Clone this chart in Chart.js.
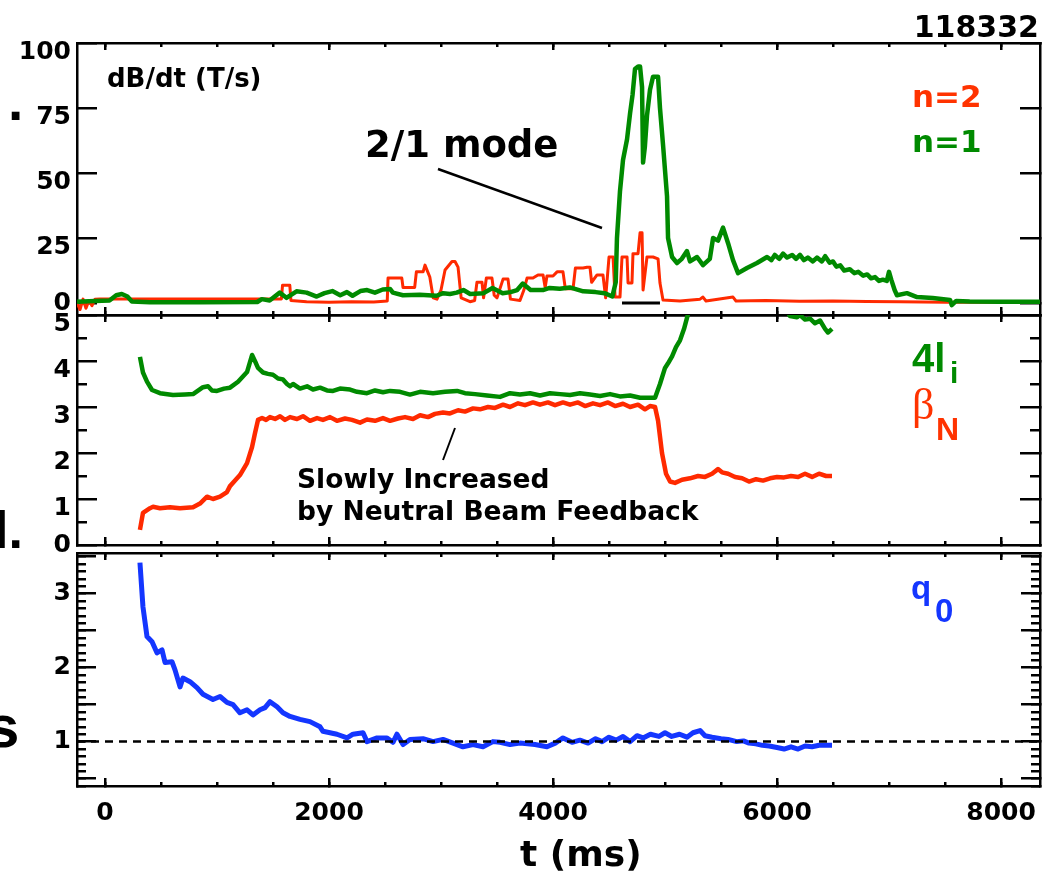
<!DOCTYPE html>
<html><head><meta charset="utf-8">
<script src="https://cdn.jsdelivr.net/npm/chart.js@4.4.1/dist/chart.umd.min.js"></script>
<style>
html,body{margin:0;padding:0;background:#fff;}
#wrap{position:relative;width:1053px;height:873px;overflow:hidden;background:#fff;}
canvas{position:absolute;left:0;top:0;}
.t{position:absolute;white-space:nowrap;line-height:1;font-family:'DejaVu Sans';font-weight:bold;color:#000;}
svg{position:absolute;left:0;top:0;}
</style></head>
<body><div id="wrap">
<canvas id="c1" width="1053" height="873" style="width:1053px;height:873px"></canvas>
<canvas id="c2" width="1053" height="873" style="width:1053px;height:873px"></canvas>
<canvas id="c3" width="1053" height="873" style="width:1053px;height:873px"></canvas>
<svg width="1053" height="873">
  <line x1="438" y1="169" x2="602" y2="228" stroke="#000" stroke-width="2.5"/>
  <line x1="455" y1="428" x2="443" y2="460" stroke="#000" stroke-width="2"/>
</svg>
</div>
<script>
// ---------------- tick positions / labels ----------------
const xMajorTicks = [0, 2000, 4000, 6000, 8000];
const xMinorTicks = [0, 500, 1000, 1500, 2000, 2500, 3000, 3500, 4000, 4500, 5000, 5500, 6000, 6500, 7000, 7500, 8000];
const topMajorTicks = [0, 25, 50, 75, 100];
const midMajorTicks = [0, 1, 2, 3, 4, 5];
const midMinorTicks = [0.5, 1.5, 2.5, 3.5, 4.5];
const botMajorTicks = [0.5, 1, 1.5, 2, 2.5, 3, 3.5];
const botMinorTicks = [0.4, 0.5, 0.6, 0.7, 0.8, 0.9, 1.0, 1.1, 1.2, 1.3, 1.4, 1.5, 1.6, 1.7, 1.8, 1.9, 2.0, 2.1, 2.2, 2.3, 2.4, 2.5, 2.6, 2.7, 2.8, 2.9, 3.0, 3.1, 3.2, 3.3, 3.4, 3.5];
const botLabels = [1, 2, 3];

// ---------------- data (time in ms, values) ----------------
// dB/dt n=1 (T/s)
const n1 = [[-250,0.5],[-90,0.8],[40,1.0],[100,3.0],[150,3.5],[200,2.5],[240,0.6],[400,0.3],[850,0.3],[1360,0.4],[1400,1.5],[1470,1.0],[1560,4.0],[1620,2.0],[1710,4.5],[1800,4.0],[1890,2.5],[1960,3.8],[2030,4.6],[2100,3.0],[2160,4.2],[2210,2.8],[2280,4.6],[2340,5.0],[2410,4.0],[2480,5.2],[2545,5.4],[2570,4.0],[2660,3.0],[2810,3.2],[2960,2.8],[3020,3.8],[3080,3.5],[3140,4.0],[3200,5.0],[3260,3.5],[3380,3.8],[3460,5.8],[3550,3.8],[3620,4.2],[3680,5.0],[3730,7.5],[3800,5.0],[3910,5.0],[3970,5.8],[4060,5.5],[4150,6.0],[4270,4.5],[4380,4.2],[4460,3.8],[4530,2.5],[4560,8],[4571,25],[4598,43],[4625,55],[4661,63],[4688,73],[4710,80],[4732,90],[4760,91],[4777,91],[4795,83],[4804,54],[4820,60],[4839,72],[4866,82],[4893,87],[4938,87],[4955,75],[4982,61],[5018,41],[5027,25],[5063,17.7],[5107,15.4],[5150,17],[5196,20],[5223,16],[5286,17.7],[5339,14.6],[5400,17],[5429,25],[5473,24],[5518,29],[5563,23],[5607,16.5],[5652,11.5],[5732,13.5],[5821,15.4],[5911,17.7],[5950,16.5],[5980,18.5],[6020,17],[6054,19],[6090,17.5],[6135,18.5],[6170,17],[6205,18.5],[6240,16.5],[6275,17.5],[6320,16],[6357,17.5],[6400,16],[6430,18],[6470,15.5],[6500,16],[6530,14],[6565,14.5],[6600,12.5],[6650,13],[6690,11.5],[6725,12],[6770,10.5],[6805,11],[6840,9.5],[6875,10],[6910,8.5],[6945,9],[6980,8.5],[7000,12],[7020,9],[7050,5],[7071,3],[7160,3.8],[7250,2.3],[7390,1.9],[7545,1.2],[7560,-0.8],[7600,0.8],[7720,0.6],[7990,0.5],[8348,0.5]];

// dB/dt n=2 (T/s)
const n2 = [[-250,0],[-223,-2.5],[-196,1.5],[-170,-2],[-143,1],[-116,-1],[-89,1.5],[-45,1.6],[1380,1.6],[1575,1.6],[1585,6.8],[1650,6.8],[1660,1.0],[1800,0.5],[2000,0.3],[2200,0.5],[2400,0.4],[2520,0.8],[2527,9.6],[2650,9.6],[2661,6],[2765,6],[2780,12],[2840,12],[2857,14.6],[2900,10],[2930,2],[2964,1.5],[3000,5],[3036,12.7],[3098,16],[3125,16],[3152,13.8],[3180,2],[3259,0.5],[3300,1],[3321,8],[3366,8],[3380,2],[3405,9.6],[3455,9.6],[3475,3],[3500,2],[3554,9.2],[3598,9.2],[3620,1.5],[3705,1],[3740,5],[3768,9.6],[3821,9.6],[3866,10.8],[3911,10.8],[3930,6],[3946,10.4],[4000,10.4],[4036,12],[4089,12],[4110,5.5],[4179,5.5],[4200,13.5],[4268,13.5],[4304,13.8],[4330,13.8],[4345,8],[4393,10.8],[4446,10.8],[4470,2],[4500,17.7],[4536,17.7],[4554,2.3],[4598,2.3],[4616,17.7],[4661,17.7],[4670,7.7],[4705,7.7],[4714,19],[4759,19],[4777,27],[4795,27],[4804,5],[4839,17.7],[4893,17.7],[4938,17],[4955,7.7],[4982,1.2],[5134,0.8],[5313,1.5],[5339,2.3],[5366,0.8],[5607,2.3],[5634,0.8],[5900,1.0],[6200,0.7],[6500,0.8],[6800,0.6],[7100,0.5],[7500,0.3],[8348,0.3]];

// reference trace near zero
const n0 = [[4616,0],[4955,0]];

// 4 li
const li4 = [[312,4.09],[339,3.75],[375,3.55],[420,3.37],[491,3.3],[607,3.26],[714,3.27],[786,3.28],[875,3.43],[920,3.45],[955,3.36],[1000,3.35],[1063,3.4],[1116,3.42],[1188,3.55],[1268,3.76],[1313,4.13],[1348,3.95],[1366,3.85],[1411,3.75],[1455,3.72],[1500,3.7],[1545,3.62],[1589,3.6],[1625,3.5],[1652,3.45],[1679,3.5],[1741,3.4],[1804,3.45],[1857,3.38],[1920,3.42],[1982,3.36],[2036,3.35],[2098,3.4],[2188,3.38],[2250,3.33],[2339,3.3],[2411,3.36],[2482,3.32],[2545,3.35],[2634,3.33],[2723,3.27],[2813,3.33],[2929,3.3],[3036,3.33],[3143,3.35],[3214,3.3],[3304,3.28],[3411,3.25],[3527,3.22],[3616,3.3],[3705,3.27],[3795,3.3],[3884,3.25],[3973,3.3],[4063,3.28],[4152,3.26],[4241,3.3],[4330,3.27],[4420,3.24],[4509,3.28],[4598,3.23],[4688,3.25],[4777,3.2],[4866,3.2],[4911,3.2],[4955,3.5],[5000,3.85],[5027,3.95],[5063,4.1],[5098,4.3],[5134,4.45],[5170,4.7],[5214,5.1],[5313,5.6],[5491,5.8],[5848,5.6],[6071,5.15],[6116,4.98],[6179,4.95],[6205,5.0],[6250,4.9],[6295,4.92],[6339,4.82],[6384,4.88],[6429,4.7],[6455,4.62],[6491,4.7]];

// beta N
const betaN = [[312,0.33],[339,0.7],[402,0.8],[429,0.83],[491,0.8],[580,0.82],[670,0.8],[786,0.82],[848,0.9],[911,1.05],[964,1.0],[1027,1.05],[1089,1.15],[1116,1.28],[1161,1.4],[1205,1.52],[1268,1.78],[1313,2.13],[1339,2.43],[1366,2.72],[1402,2.76],[1438,2.72],[1473,2.78],[1518,2.74],[1563,2.8],[1607,2.72],[1652,2.78],[1714,2.74],[1768,2.8],[1830,2.7],[1893,2.76],[1946,2.72],[2009,2.78],[2071,2.7],[2143,2.75],[2205,2.72],[2277,2.66],[2339,2.73],[2411,2.7],[2482,2.76],[2545,2.7],[2616,2.75],[2679,2.78],[2750,2.74],[2813,2.82],[2884,2.78],[2946,2.85],[3018,2.88],[3080,2.86],[3152,2.93],[3214,2.9],[3286,2.97],[3348,2.95],[3420,3.0],[3482,2.98],[3554,3.05],[3616,3.0],[3688,3.08],[3750,3.04],[3821,3.1],[3884,3.05],[3955,3.1],[4018,3.04],[4089,3.1],[4152,3.05],[4223,3.1],[4286,3.02],[4357,3.08],[4420,3.04],[4491,3.1],[4554,3.02],[4625,3.07],[4688,3.0],[4759,3.05],[4821,2.95],[4866,3.02],[4911,3.0],[4938,2.7],[4973,2.0],[5009,1.55],[5045,1.38],[5089,1.35],[5152,1.42],[5223,1.45],[5295,1.5],[5357,1.48],[5420,1.55],[5473,1.65],[5509,1.58],[5563,1.55],[5625,1.48],[5688,1.45],[5750,1.38],[5813,1.43],[5875,1.4],[5938,1.45],[6000,1.48],[6063,1.47],[6125,1.5],[6188,1.48],[6250,1.55],[6313,1.48],[6375,1.55],[6438,1.5],[6491,1.5]];

// q0
const q0 = [[312,3.42],[339,2.82],[375,2.42],[420,2.35],[464,2.2],[509,2.24],[536,2.07],[598,2.08],[625,1.97],[670,1.74],[696,1.86],[759,1.81],[821,1.73],[875,1.64],[964,1.57],[1027,1.61],[1089,1.53],[1143,1.5],[1205,1.39],[1268,1.43],[1321,1.36],[1384,1.43],[1429,1.46],[1473,1.54],[1536,1.47],[1589,1.39],[1652,1.34],[1741,1.3],[1830,1.27],[1920,1.2],[1946,1.14],[2009,1.12],[2071,1.1],[2161,1.05],[2214,1.1],[2304,1.12],[2339,1.0],[2429,1.05],[2518,1.05],[2571,0.99],[2607,1.1],[2661,0.96],[2723,1.03],[2839,1.04],[2929,1.0],[3018,1.03],[3107,0.98],[3196,0.93],[3286,0.96],[3375,0.93],[3464,1.0],[3527,0.99],[3616,0.96],[3705,0.98],[3839,0.96],[3946,0.93],[4020,0.98],[4089,1.05],[4170,0.99],[4240,1.02],[4313,0.98],[4380,1.04],[4438,1.0],[4500,1.06],[4563,1.02],[4625,1.07],[4688,1.0],[4750,1.08],[4804,1.05],[4870,1.1],[4946,1.07],[5000,1.12],[5060,1.07],[5130,1.1],[5196,1.06],[5250,1.12],[5313,1.15],[5357,1.08],[5420,1.06],[5500,1.04],[5563,1.03],[5640,1.0],[5700,1.01],[5750,0.98],[5810,0.97],[5870,0.95],[5930,0.94],[6000,0.92],[6063,0.9],[6125,0.93],[6188,0.9],[6250,0.94],[6313,0.93],[6375,0.95],[6491,0.95]];

const qRef = [[-250,1],[8348,1]];

// ---------------- rendering ----------------
const X_MIN = -250, X_MAX = 8348;
const GREEN = '#008a00', RED = '#ff2a00', BLUE = '#1436ff';

function pts(arr){ return arr.map(p => ({x:p[0], y:p[1]})); }

function mkAxis(pos, min, max, tickList, len, o) {
  o = o || {};
  const horiz = (pos === 'top' || pos === 'bottom');
  return {
    type:'linear', position:pos, min:min, max:max, weight:o.weight || 0,
    afterBuildTicks:function(s){ s.ticks = tickList.map(v => ({value:v})); },
    ticks:{
      autoSkip:false, maxRotation:0, minRotation:0,
      display:!!o.labels, padding:o.padding || 0,
      color:'#000', font:{family:'DejaVu Sans', weight:'bold', size:25, lineHeight:o.lh || 1.2},
      callback:o.callback || function(v){ return String(v); }
    },
    grid:{display:!o.noTicks, drawOnChartArea:false, drawTicks:true, tickLength:-len, lineWidth:2.5, color:'#000'},
    border:{display:!o.noBorder, width:2.5, color:'#000'},
    afterFit:function(s){
      const sz = o.size || 0;
      if (horiz) s.height = sz; else s.width = sz;
      s.paddingLeft = 0; s.paddingRight = 0; s.paddingTop = 0; s.paddingBottom = 0;
    }
  };
}

// labels hanging below their tick use a two-line label ['', text]
function hang(v){ return ['', String(v)]; }

function buildScales(p) {
  const sc = {};
  sc.x = mkAxis('bottom', X_MIN, X_MAX, xMajorTicks, 8, p.xLabels ?
      {labels:true, padding:20, size:873 - 786, weight:10, callback:v => String(v)} : {weight:10});
  sc.xm = mkAxis('bottom', X_MIN, X_MAX, xMinorTicks, 4, {noBorder:true});
  sc.xt = mkAxis('top', X_MIN, X_MAX, xMajorTicks, 7);
  sc.xtm = mkAxis('top', X_MIN, X_MAX, xMinorTicks, 4, {noBorder:true});
  sc.y = mkAxis('left', p.min, p.max, p.major, p.majLen, {labels:true, padding:p.majLen + 6,
      size:77, weight:10, lh:p.lh, callback:p.cb});
  if (p.minor) sc.ym = mkAxis('left', p.min, p.max, p.minor, p.minLen, {noBorder:true});
  sc.yr = mkAxis('right', p.min, p.max, p.major, p.majLen);
  if (p.minor) sc.yrm = mkAxis('right', p.min, p.max, p.minor, p.minLen, {noBorder:true});
  return sc;
}

function ds(arr, color, width, extra) {
  return Object.assign({data:pts(arr), borderColor:color, borderWidth:width, pointRadius:0,
    tension:0, fill:false, borderJoinStyle:'round'}, extra || {});
}

function makeChart(id, top, datasets, scales, bottomPad) {
  return new Chart(document.getElementById(id), {
    type:'line',
    data:{datasets:datasets},
    options:{
      responsive:false, maintainAspectRatio:false, animation:false, events:[],
      layout:{padding:{left:0, right:13, top:top, bottom:bottomPad}},
      plugins:{legend:{display:false}, tooltip:{enabled:false}},
      scales:scales
    }
  });
}

makeChart('c1', 43,
  [ds(n1, GREEN, 4.5), ds(n2, RED, 3), ds(n0, '#000', 3)],
  buildScales({min:-4.6, max:100, major:topMajorTicks, majLen:20, lh:0.72,
    cb:v => v === 0 ? '0' : hang(v)}), 873 - 315);

makeChart('c2', 315,
  [ds(li4, GREEN, 4.5), ds(betaN, RED, 4.5)],
  buildScales({min:0, max:5, major:midMajorTicks, minor:midMinorTicks, majLen:20, minLen:10, lh:0.72,
    cb:v => v === 0 ? '0' : hang(v)}), 873 - 545);

makeChart('c3', 553,
  [ds(qRef, '#000', 2.5, {borderDash:[8,6]}), ds(q0, BLUE, 5)],
  buildScales({min:0.4, max:3.55, major:botMajorTicks, minor:botMinorTicks, majLen:19, minLen:9, xLabels:true,
    cb:v => botLabels.includes(v) ? String(v) : ''}), 0);

// ---------------- text ----------------
const wrap = document.getElementById('wrap');
function addText(str, x, base, size, opt) {
  opt = opt || {};
  const d = document.createElement('div');
  d.className = 't';
  d.textContent = str;
  const k = opt.serif ? 0.8375 : 0.846;
  d.style.fontSize = size + 'px';
  d.style.top = (base - k * size) + 'px';
  if (opt.right) d.style.right = (1053 - x) + 'px'; else d.style.left = x + 'px';
  if (opt.lib) d.style.fontFamily = "'Liberation Sans'";
  if (opt.serif) { d.style.fontFamily = "'Liberation Serif'"; d.style.fontWeight = 'normal'; }
  if (opt.color) d.style.color = opt.color;
  wrap.appendChild(d);
}
addText('118332', 1039, 37, 30, {right:true});
addText('dB/dt (T/s)', 107, 87, 26);
addText('2/1 mode', 365, 157, 37);
addText('n=2', 912, 107, 31, {color:'#ff3300'});
addText('n=1', 912, 152, 31, {color:GREEN});
addText('4l', 912, 372, 40, {lib:true, color:GREEN});
addText('i', 950, 383, 30, {lib:true, color:GREEN});
addText('β', 912, 420, 44, {serif:true, color:'#ff3300'});
addText('N', 936, 440, 32, {lib:true, color:'#ff3300'});
addText('q', 911, 599, 33, {lib:true, color:BLUE});
addText('0', 935, 622, 33, {lib:true, color:BLUE});
addText('Slowly Increased', 297, 488, 26.5);
addText('by Neutral Beam Feedback', 297, 520, 26.5);
addText('t (ms)', 520, 866, 36);
addText('.', 8, 121, 55, {lib:true});
addText('l.', -6, 548, 52, {lib:true});
addText('s', -14, 748, 60, {lib:true});
</script>
</body></html>
